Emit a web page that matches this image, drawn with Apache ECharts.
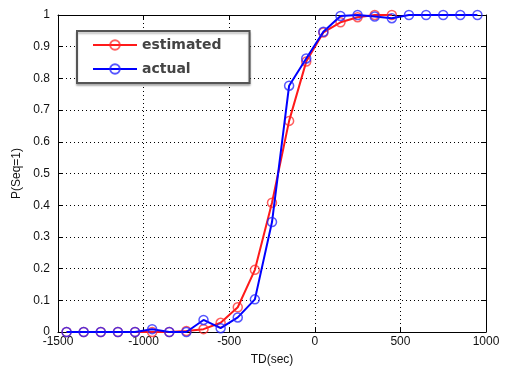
<!DOCTYPE html>
<html>
<head>
<meta charset="utf-8">
<script src="https://cdn.jsdelivr.net/npm/echarts@6/dist/echarts.min.js"></script>
<style>
  html, body { margin: 0; padding: 0; background: #fff; }
  #chart { width: 506px; height: 367px; }
</style>
</head>
<body>
<div id="chart"></div>
<script>
// TD (sec) sample points
const tdEstimated = [-1450, -1350, -1250, -1150, -1050, -950, -850, -750, -650, -550,
  -450, -350, -250, -150, -50, 50, 150, 250, 350, 450]
const pEstimated = [0, 0, 0, 0, 0, 0, 0, 0.003, 0.009, 0.029,
  0.078, 0.196, 0.408, 0.666, 0.853, 0.945, 0.977, 0.993, 1.0, 1.0]

const tdActual = [-1450, -1350, -1250, -1150, -1050, -950, -850, -750, -650, -550,
  -450, -350, -250, -150, -50, 50, 150, 250, 350, 450, 550, 650, 750, 850, 950]
const pActual = [0, 0, 0, 0, 0, 0.009, 0, 0, 0.038, 0.012,
  0.046, 0.103, 0.347, 0.777, 0.863, 0.947, 0.997, 1.0, 0.995, 0.99, 1.0, 1.0, 1.0, 1.0, 1.0]

const seriesNames = ["estimated", "actual"]

const pairs = (xs, ys) => xs.map((x, i) => [x, ys[i]])

const chart = echarts.init(document.getElementById("chart"), null, { renderer: "canvas" })

const font = "Liberation Sans, Arial, sans-serif"
const tickLabel = { color: "#111", fontSize: 12, fontFamily: font, formatter: v => String(v) }

chart.setOption({
  animation: false,
  grid: { left: 58, right: 20, top: 15, bottom: 35, show: false, containLabel: false, outerBoundsMode: "none" },
  legend: {
    left: 77,
    top: 31,
    orient: "vertical",
    itemWidth: 44,
    itemHeight: 12,
    itemGap: 10,
    padding: [7, 28, 7, 15],
    backgroundColor: "#fff",
    borderColor: "#555",
    borderWidth: 2,
    shadowColor: "rgba(0,0,0,0.25)",
    shadowOffsetY: 2,
    shadowBlur: 2,
    textStyle: { color: "#444", fontSize: 14, fontWeight: "bold", fontFamily: "DejaVu Sans, sans-serif" },
    data: seriesNames
  },
  xAxis: [
    {
      type: "value",
      min: -1500,
      max: 1000,
      interval: 500,
      name: "TD(sec)",
      nameLocation: "middle",
      nameGap: 22,
      nameTextStyle: { color: "#111", fontSize: 12, fontFamily: font },
      axisLine: { onZero: false, lineStyle: { color: "#000", width: 1 } },
      axisTick: { inside: true, length: 5, lineStyle: { color: "#000" } },
      axisLabel: { ...tickLabel, margin: 4 },
      splitLine: { show: true, lineStyle: { type: [1, 3], color: "#000", width: 1 } }
    },
    {
      type: "value",
      position: "top",
      min: -1500,
      max: 1000,
      interval: 500,
      axisLine: { show: true, onZero: false, lineStyle: { color: "#000", width: 1 } },
      axisTick: { inside: true, length: 5, lineStyle: { color: "#000" } },
      axisLabel: { show: false },
      splitLine: { show: false }
    }
  ],
  yAxis: [
    {
      type: "value",
      min: 0,
      max: 1,
      interval: 0.1,
      name: "P(Seq=1)",
      nameLocation: "middle",
      nameGap: 32,
      nameTextStyle: { color: "#111", fontSize: 12, fontFamily: font },
      axisLine: { show: true, onZero: false, lineStyle: { color: "#000", width: 1 } },
      axisTick: { inside: true, length: 5, lineStyle: { color: "#000" } },
      axisLabel: { ...tickLabel, margin: 8 },
      splitLine: { show: true, lineStyle: { type: [1, 3], color: "#000", width: 1 } }
    },
    {
      type: "value",
      position: "right",
      min: 0,
      max: 1,
      interval: 0.1,
      axisLine: { show: true, onZero: false, lineStyle: { color: "#000", width: 1 } },
      axisTick: { inside: true, length: 5, lineStyle: { color: "#000" } },
      axisLabel: { show: false },
      splitLine: { show: false }
    }
  ],
  series: [
    {
      name: seriesNames[0],
      type: "line",
      data: pairs(tdEstimated, pEstimated),
      symbol: "circle",
      symbolSize: 9,
      showAllSymbol: true,
      lineStyle: { color: "#ff1a1a", width: 2 },
      itemStyle: { color: "rgba(255,255,255,0)", borderColor: "rgba(255,40,40,0.75)", borderWidth: 1.5 },
      z: 3
    },
    {
      name: seriesNames[1],
      type: "line",
      data: pairs(tdActual, pActual),
      symbol: "circle",
      symbolSize: 9,
      showAllSymbol: true,
      lineStyle: { color: "#0000ff", width: 2 },
      itemStyle: { color: "rgba(255,255,255,0)", borderColor: "rgba(30,30,255,0.75)", borderWidth: 1.5 },
      z: 4
    }
  ]
})
</script>
</body>
</html>
